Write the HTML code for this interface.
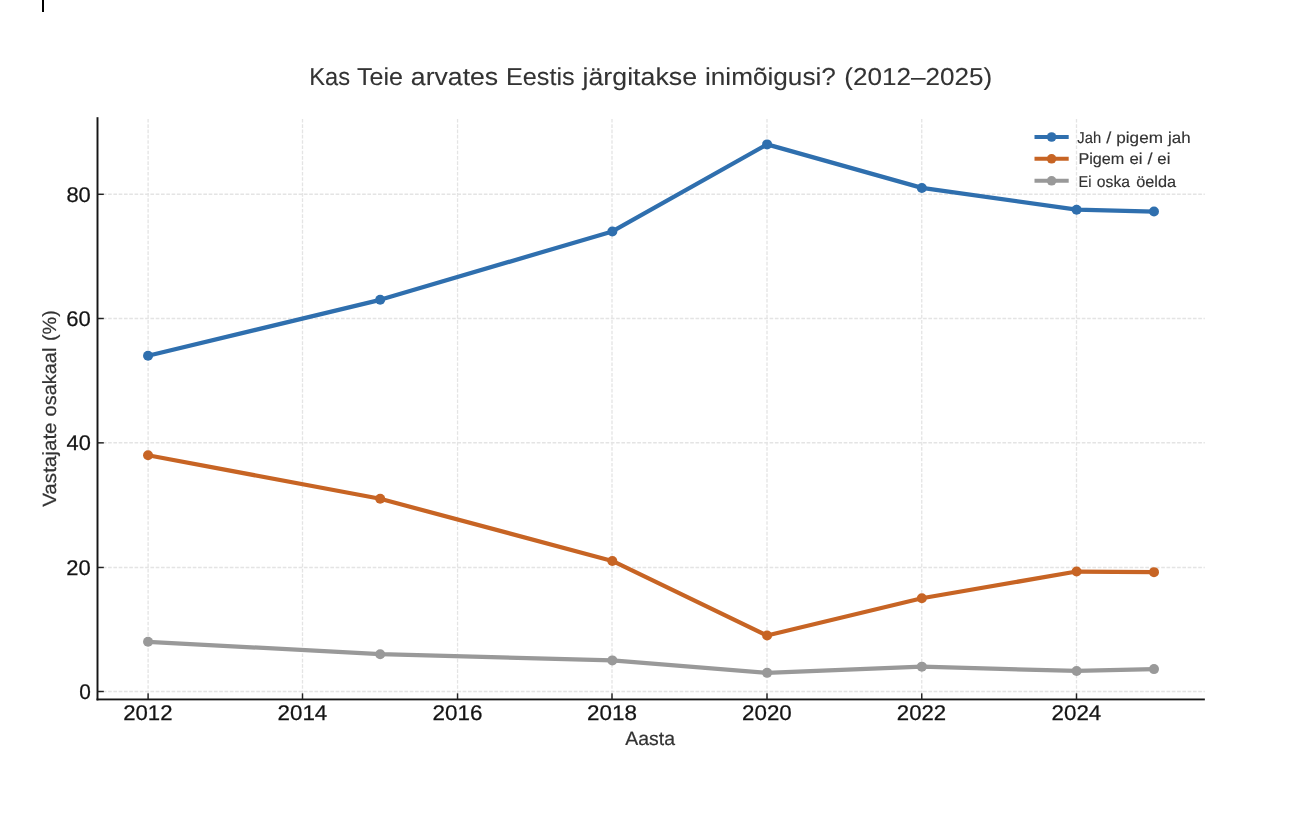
<!DOCTYPE html>
<html lang="et"><head><meta charset="utf-8"><title>Kas Teie arvates Eestis järgitakse inimõigusi? (2012–2025)</title>
<style>
html,body{margin:0;padding:0;background:#fff;}
body{width:1308px;height:836px;overflow:hidden;font-family:"Liberation Sans",sans-serif;}
svg{display:block;will-change:transform;}
svg text{font-family:"Liberation Sans",sans-serif;white-space:pre;text-rendering:geometricPrecision;}
</style></head><body>
<svg width="1308" height="836" viewBox="0 0 1308 836">
<rect x="0" y="0" width="1308" height="836" fill="#ffffff"/>
<rect x="42" y="0" width="2" height="12" fill="#000"/>
<g stroke="#e4e4e4" stroke-width="1.3" stroke-dasharray="3.66 1.632" fill="none">
<path d="M148.10 699.45V117.20"/>
<path d="M302.50 699.45V117.20"/>
<path d="M457.55 699.45V117.20"/>
<path d="M612.00 699.45V117.20"/>
<path d="M767.00 699.45V117.20"/>
<path d="M921.75 699.45V117.20"/>
<path d="M1076.50 699.45V117.20"/>
<path d="M97.50 691.50H1204.85"/>
<path d="M97.50 567.50H1204.85"/>
<path d="M97.50 442.75H1204.85"/>
<path d="M97.50 318.50H1204.85"/>
<path d="M97.50 194.25H1204.85"/>
</g>
<polyline points="148.05,355.78 380.19,299.83 612.33,231.44 767.09,144.40 921.85,187.92 1076.61,209.68 1153.99,211.55" fill="none" stroke="#2f6fae" stroke-width="4.25" stroke-linejoin="round" stroke-linecap="butt"/>
<circle cx="148.05" cy="355.78" r="5.0" fill="#2f6fae"/>
<circle cx="380.19" cy="299.83" r="5.0" fill="#2f6fae"/>
<circle cx="612.33" cy="231.44" r="5.0" fill="#2f6fae"/>
<circle cx="767.09" cy="144.40" r="5.0" fill="#2f6fae"/>
<circle cx="921.85" cy="187.92" r="5.0" fill="#2f6fae"/>
<circle cx="1076.61" cy="209.68" r="5.0" fill="#2f6fae"/>
<circle cx="1153.99" cy="211.55" r="5.0" fill="#2f6fae"/>
<polyline points="148.05,455.25 380.19,498.77 612.33,560.94 767.09,635.55 921.85,598.25 1076.61,571.51 1153.99,572.13" fill="none" stroke="#c76424" stroke-width="4.25" stroke-linejoin="round" stroke-linecap="butt"/>
<circle cx="148.05" cy="455.25" r="5.0" fill="#c76424"/>
<circle cx="380.19" cy="498.77" r="5.0" fill="#c76424"/>
<circle cx="612.33" cy="560.94" r="5.0" fill="#c76424"/>
<circle cx="767.09" cy="635.55" r="5.0" fill="#c76424"/>
<circle cx="921.85" cy="598.25" r="5.0" fill="#c76424"/>
<circle cx="1076.61" cy="571.51" r="5.0" fill="#c76424"/>
<circle cx="1153.99" cy="572.13" r="5.0" fill="#c76424"/>
<polyline points="148.05,641.76 380.19,654.20 612.33,660.41 767.09,672.85 921.85,666.63 1076.61,670.98 1153.99,669.12" fill="none" stroke="#999999" stroke-width="4.25" stroke-linejoin="round" stroke-linecap="butt"/>
<circle cx="148.05" cy="641.76" r="5.0" fill="#999999"/>
<circle cx="380.19" cy="654.20" r="5.0" fill="#999999"/>
<circle cx="612.33" cy="660.41" r="5.0" fill="#999999"/>
<circle cx="767.09" cy="672.85" r="5.0" fill="#999999"/>
<circle cx="921.85" cy="666.63" r="5.0" fill="#999999"/>
<circle cx="1076.61" cy="670.98" r="5.0" fill="#999999"/>
<circle cx="1153.99" cy="669.12" r="5.0" fill="#999999"/>
<g fill="#161616">
<rect x="96.530" y="117.200" width="1.940" height="583.200"/>
<rect x="96.550" y="698.500" width="1108.300" height="1.850"/>
</g>
<g fill="#222222">
<rect x="147.375" y="693.350" width="1.450" height="6.100"/>
<rect x="301.775" y="693.350" width="1.450" height="6.100"/>
<rect x="456.825" y="693.350" width="1.450" height="6.100"/>
<rect x="611.275" y="693.350" width="1.450" height="6.100"/>
<rect x="766.275" y="693.350" width="1.450" height="6.100"/>
<rect x="921.025" y="693.350" width="1.450" height="6.100"/>
<rect x="1075.775" y="693.350" width="1.450" height="6.100"/>
<rect x="97.500" y="690.775" width="6.300" height="1.450"/>
<rect x="97.500" y="566.745" width="6.300" height="1.450"/>
<rect x="97.500" y="442.125" width="6.300" height="1.450"/>
<rect x="97.500" y="317.775" width="6.300" height="1.450"/>
<rect x="97.500" y="193.575" width="6.300" height="1.450"/>
</g>
<text y="85.00" font-size="24.52" fill="#333333" stroke="#333333" stroke-width="0.08"><tspan x="309.29" textLength="40.76" lengthAdjust="spacingAndGlyphs">Kas</tspan> <tspan x="357.07" textLength="46.00" lengthAdjust="spacingAndGlyphs">Teie</tspan> <tspan x="410.87" textLength="87.29" lengthAdjust="spacingAndGlyphs">arvates</tspan> <tspan x="506.04" textLength="68.67" lengthAdjust="spacingAndGlyphs">Eestis</tspan> <tspan x="582.55" textLength="114.46" lengthAdjust="spacingAndGlyphs">järgitakse</tspan> <tspan x="704.99" textLength="130.85" lengthAdjust="spacingAndGlyphs">inimõigusi?</tspan> <tspan x="844.32" textLength="147.99" lengthAdjust="spacingAndGlyphs">(2012–2025)</tspan></text>
<text y="720.00" font-size="21.24" fill="#141414" stroke="#141414" stroke-width="0.25"><tspan x="123.17" textLength="49.31" lengthAdjust="spacingAndGlyphs">2012</tspan></text>
<text y="720.00" font-size="21.24" fill="#141414" stroke="#141414" stroke-width="0.25"><tspan x="277.56" textLength="49.74" lengthAdjust="spacingAndGlyphs">2014</tspan></text>
<text y="720.00" font-size="21.24" fill="#141414" stroke="#141414" stroke-width="0.25"><tspan x="432.60" textLength="49.95" lengthAdjust="spacingAndGlyphs">2016</tspan></text>
<text y="720.00" font-size="21.24" fill="#141414" stroke="#141414" stroke-width="0.25"><tspan x="587.06" textLength="49.89" lengthAdjust="spacingAndGlyphs">2018</tspan></text>
<text y="720.00" font-size="21.24" fill="#141414" stroke="#141414" stroke-width="0.25"><tspan x="742.06" textLength="49.75" lengthAdjust="spacingAndGlyphs">2020</tspan></text>
<text y="720.00" font-size="21.24" fill="#141414" stroke="#141414" stroke-width="0.25"><tspan x="896.82" textLength="49.31" lengthAdjust="spacingAndGlyphs">2022</tspan></text>
<text y="720.00" font-size="21.24" fill="#141414" stroke="#141414" stroke-width="0.25"><tspan x="1051.56" textLength="49.74" lengthAdjust="spacingAndGlyphs">2024</tspan></text>
<text y="699.00" font-size="21.24" fill="#141414" stroke="#141414" stroke-width="0.25"><tspan x="79.18" textLength="11.59" lengthAdjust="spacingAndGlyphs">0</tspan></text>
<text y="575.00" font-size="21.24" fill="#141414" stroke="#141414" stroke-width="0.25"><tspan x="66.38" textLength="24.42" lengthAdjust="spacingAndGlyphs">20</tspan></text>
<text y="450.00" font-size="21.24" fill="#141414" stroke="#141414" stroke-width="0.25"><tspan x="66.53" textLength="24.27" lengthAdjust="spacingAndGlyphs">40</tspan></text>
<text y="326.00" font-size="21.24" fill="#141414" stroke="#141414" stroke-width="0.25"><tspan x="66.31" textLength="24.49" lengthAdjust="spacingAndGlyphs">60</tspan></text>
<text y="202.00" font-size="21.24" fill="#141414" stroke="#141414" stroke-width="0.25"><tspan x="66.45" textLength="24.35" lengthAdjust="spacingAndGlyphs">80</tspan></text>
<text y="745.00" font-size="19.11" fill="#333333" stroke="#333333" stroke-width="0.20"><tspan x="625.37" textLength="49.69" lengthAdjust="spacingAndGlyphs">Aasta</tspan></text>
<text y="0.00" font-size="19.11" fill="#333333" stroke="#333333" stroke-width="0.20" transform="translate(55.9 408.4) rotate(-90)"><tspan x="-98.47" textLength="84.45" lengthAdjust="spacingAndGlyphs">Vastajate</tspan> <tspan x="-8.02" textLength="68.81" lengthAdjust="spacingAndGlyphs">osakaal</tspan> <tspan x="67.30" textLength="30.85" lengthAdjust="spacingAndGlyphs">(%)</tspan></text>
<path d="M1034.5 137.00H1068.7" stroke="#2f6fae" stroke-width="4.05" fill="none"/>
<circle cx="1051.6" cy="137.00" r="4.8" fill="#2f6fae"/>
<text y="143.00" font-size="15.75" fill="#333333" stroke="#333333" stroke-width="0.15"><tspan x="1077.32" textLength="23.82" lengthAdjust="spacingAndGlyphs">Jah</tspan> <tspan x="1106.19" textLength="5.06" lengthAdjust="spacingAndGlyphs">/</tspan> <tspan x="1116.30" textLength="46.64" lengthAdjust="spacingAndGlyphs">pigem</tspan> <tspan x="1167.99" textLength="22.57" lengthAdjust="spacingAndGlyphs">jah</tspan></text>
<path d="M1034.5 158.80H1068.7" stroke="#c76424" stroke-width="4.05" fill="none"/>
<circle cx="1051.6" cy="158.80" r="4.8" fill="#c76424"/>
<text y="164.00" font-size="15.75" fill="#333333" stroke="#333333" stroke-width="0.15"><tspan x="1078.45" textLength="45.90" lengthAdjust="spacingAndGlyphs">Pigem</tspan> <tspan x="1129.40" textLength="13.06" lengthAdjust="spacingAndGlyphs">ei</tspan> <tspan x="1147.48" textLength="5.06" lengthAdjust="spacingAndGlyphs">/</tspan> <tspan x="1157.38" textLength="13.06" lengthAdjust="spacingAndGlyphs">ei</tspan></text>
<path d="M1034.5 180.80H1068.7" stroke="#999999" stroke-width="4.05" fill="none"/>
<circle cx="1051.6" cy="180.80" r="4.8" fill="#999999"/>
<text y="187.00" font-size="15.75" fill="#333333" stroke="#333333" stroke-width="0.15"><tspan x="1078.59" textLength="12.95" lengthAdjust="spacingAndGlyphs">Ei</tspan> <tspan x="1096.84" textLength="33.14" lengthAdjust="spacingAndGlyphs">oska</tspan> <tspan x="1136.19" textLength="39.88" lengthAdjust="spacingAndGlyphs">öelda</tspan></text>
</svg>
</body></html>
